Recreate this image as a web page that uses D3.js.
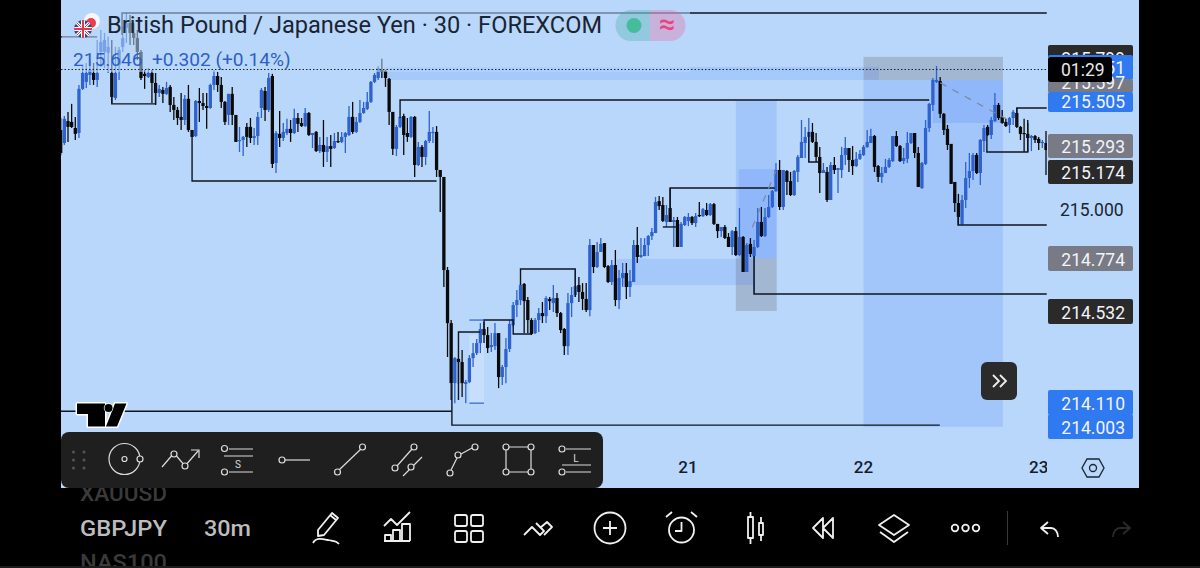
<!DOCTYPE html>
<html><head><meta charset="utf-8">
<script src="https://cdn.jsdelivr.net/npm/d3@7"></script>
<style>html,body{margin:0;padding:0;background:#000;overflow:hidden}svg{display:block}text{font-family:Roboto,sans-serif}</style>
</head><body><svg id="c" width="1200" height="568"></svg>
<script>
// [open, high, low, close], 30-minute bars
const barsA=[[215.368,215.423,215.253,215.262],[215.308,215.432,215.299,215.419],[215.409,215.451,215.313,215.382],[215.405,215.488,215.377,215.382],[215.377,215.428,215.322,215.350],[215.354,215.575,215.331,215.557],[215.557,215.667,215.552,215.630],[215.589,215.676,215.561,215.630],[215.621,215.690,215.575,215.644],[215.630,215.676,215.575,215.598],[215.598,215.782,215.566,215.630],[215.727,215.828,215.658,215.773],[215.727,215.814,215.653,215.782],[215.722,215.796,215.630,215.750],[215.630,215.782,215.492,215.520],[215.515,215.750,215.506,215.630],[215.667,215.750,215.598,215.736],[215.750,215.842,215.727,215.791],[215.837,215.906,215.768,215.860],[215.860,215.897,215.759,215.814],[215.814,215.860,215.759,215.791],[215.791,215.828,215.690,215.727],[215.727,215.736,215.598,215.607],[215.626,215.644,215.557,215.616],[215.612,215.653,215.607,215.630],[215.630,215.644,215.492,215.584],[215.584,215.584,215.483,215.538],[215.538,215.575,215.520,215.557],[215.552,215.566,215.492,215.534],[215.534,215.589,215.529,215.561],[215.566,215.575,215.451,215.483],[215.483,215.520,215.414,215.460],[215.460,215.474,215.391,215.423],[215.428,215.538,215.368,215.414],[215.414,215.529,215.391,215.511],[215.511,215.575,215.359,215.368],[215.368,215.368,215.336,215.336],[215.340,215.506,215.336,215.501],[215.501,215.561,215.405,215.492],[215.492,215.538,215.460,215.478],[215.478,215.538,215.373,215.469],[215.469,215.580,215.465,215.575],[215.575,215.644,215.552,215.616],[215.616,215.635,215.543,215.575],[215.575,215.612,215.469,215.497],[215.497,215.501,215.391,215.405],[215.437,215.534,215.391,215.534],[215.534,215.566,215.391,215.437],[215.437,215.437,215.313,215.313],[215.317,215.382,215.267,215.322],[215.322,215.340,215.248,215.336],[215.382,215.400,215.290,215.336],[215.382,215.423,215.308,215.331],[215.331,215.377,215.299,215.340],[215.340,215.451,215.299,215.428]];
const barsB=[[215.469,215.561,215.423,215.552],[215.547,215.566,215.409,215.460],[215.460,215.630,215.451,215.607],[215.616,215.626,215.193,215.212],[215.216,215.363,215.170,215.354],[215.350,215.455,215.290,215.331],[215.331,215.400,215.317,215.359],[215.354,215.419,215.345,215.373],[215.373,215.414,215.313,215.354],[215.354,215.465,215.350,215.423],[215.423,215.446,215.359,215.396],[215.400,215.423,215.382,215.386],[215.386,215.469,215.382,215.446],[215.446,215.451,215.340,215.345],[215.345,215.354,215.285,215.354],[215.359,215.363,215.267,215.271],[215.271,215.336,215.262,215.299],[215.299,215.414,215.198,215.267],[215.267,215.336,215.221,215.294],[215.294,215.345,215.198,215.281],[215.285,215.354,215.281,215.317],[215.317,215.359,215.308,215.313],[215.313,215.359,215.308,215.336],[215.336,215.359,215.262,215.354],[215.345,215.478,215.340,215.428],[215.428,215.497,215.350,215.359],[215.359,215.428,215.354,215.405],[215.405,215.506,215.400,215.446],[215.446,215.497,215.442,215.469],[215.465,215.543,215.460,215.497],[215.497,215.593,215.492,215.589],[215.589,215.630,215.584,215.621],[215.607,215.662,215.598,215.653],[215.644,215.695,215.607,215.635],[215.639,215.644,215.566,215.607],[215.603,215.607,215.391,215.451],[215.451,215.451,215.253,215.281],[215.281,215.391,215.248,215.382],[215.382,215.428,215.377,215.428],[215.432,215.442,215.253,215.345],[215.354,215.423,215.313,215.336],[215.336,215.432,215.331,215.428],[215.428,215.432,215.152,215.207],[215.207,215.313,215.202,215.290],[215.290,215.299,215.198,215.244],[215.244,215.322,215.207,215.317],[215.317,215.455,215.308,215.359],[215.354,215.382,215.308,215.359],[215.359,215.386,215.152,215.184],[215.184,215.184,214.991,215.152],[215.152,215.152,214.646,214.724]];
const barsC=[[214.724,214.738,214.324,214.480],[214.480,214.494,214.126,214.204],[214.204,214.324,214.112,214.319],[214.315,214.319,214.200,214.301],[214.301,214.356,214.140,214.204],[214.200,214.218,214.112,214.209],[214.209,214.333,214.204,214.319],[214.319,214.388,214.278,214.342],[214.342,214.407,214.333,214.388],[214.388,214.480,214.342,214.453],[214.453,214.485,214.388,214.425],[214.425,214.462,214.342,214.365],[214.370,214.434,214.347,214.379],[214.374,214.480,214.356,214.434],[214.434,214.434,214.181,214.232],[214.232,214.287,214.195,214.278],[214.278,214.411,214.204,214.361],[214.361,214.494,214.347,214.476],[214.471,214.577,214.462,214.563],[214.563,214.632,214.508,214.586],[214.586,214.664,214.563,214.655],[214.660,214.664,214.434,214.581],[214.586,214.600,214.434,214.494],[214.494,214.503,214.425,214.430],[214.434,214.503,214.430,214.494],[214.494,214.549,214.439,214.526],[214.526,214.577,214.480,214.512],[214.512,214.604,214.480,214.595],[214.591,214.600,214.540,214.581],[214.572,214.655,214.531,214.595],[214.595,214.618,214.508,214.526],[214.526,214.531,214.434,214.448],[214.453,214.457,214.333,214.374],[214.374,214.618,214.333,214.572],[214.572,214.646,214.508,214.609],[214.609,214.724,214.600,214.650],[214.655,214.692,214.577,214.623],[214.623,214.664,214.540,214.591],[214.591,214.664,214.531,214.540],[214.540,214.867,214.512,214.839],[214.839,214.839,214.710,214.738],[214.738,214.853,214.733,214.807],[214.807,214.871,214.807,214.844],[214.848,214.848,214.733,214.738],[214.742,214.747,214.664,214.669],[214.669,214.770,214.655,214.747],[214.747,214.816,214.558,214.586],[214.586,214.724,214.545,214.687],[214.687,214.756,214.646,214.710],[214.710,214.756,214.591,214.646],[214.646,214.724,214.600,214.673],[214.669,214.862,214.669,214.839],[214.839,214.922,214.756,214.784],[214.784,214.871,214.779,214.793],[214.788,214.871,214.788,214.839],[214.839,214.885,214.788,214.880],[214.880,214.917,214.862,214.899]];
const barsD=[[214.894,215.060,214.894,215.037],[215.041,215.064,215.000,215.018],[215.023,215.060,214.945,214.950],[214.945,215.023,214.922,214.977],[215.009,215.101,214.945,214.945],[214.945,214.968,214.830,214.954],[214.954,214.968,214.830,214.830],[214.830,214.945,214.830,214.936],[214.931,214.972,214.926,214.968],[214.949,214.986,214.926,214.968],[214.968,214.972,214.931,214.940],[214.940,214.986,214.922,214.972],[214.977,215.037,214.968,214.972],[214.972,215.009,214.968,215.004],[215.000,215.032,214.972,214.977],[214.977,215.032,214.972,215.027],[215.027,215.032,214.931,214.936],[214.936,214.936,214.871,214.903],[214.903,214.922,214.876,214.922],[214.922,214.931,214.867,214.871],[214.876,214.894,214.830,214.830],[214.830,214.908,214.793,214.903],[214.903,214.922,214.788,214.793],[214.793,215.009,214.788,214.876],[214.876,214.880,214.715,214.715],[214.715,214.848,214.715,214.839],[214.844,214.871,214.784,214.798],[214.788,214.862,214.614,214.830],[214.830,215.009,214.825,214.945],[214.945,215.014,214.876,214.880],[214.880,215.009,214.876,214.968],[214.968,215.069,214.963,215.014],[215.014,215.092,215.009,215.087],[215.087,215.216,215.083,215.184],[215.184,215.230,215.000,215.014],[215.014,215.184,215.000,215.184],[215.179,215.184,215.069,215.129],[215.133,215.175,215.064,215.069],[215.069,215.184,215.064,215.179],[215.175,215.253,215.129,215.244],[215.239,215.414,215.239,215.313],[215.308,215.382,215.239,215.336],[215.336,215.423,215.221,215.359],[215.359,215.400,215.308,215.313],[215.313,215.354,215.221,215.244],[215.244,215.290,215.078,215.170],[215.170,215.216,215.170,215.184]];
const barsE=[[215.175,215.198,215.037,215.046],[215.046,215.221,215.046,215.207],[215.207,215.244,215.166,215.184],[215.184,215.193,215.078,215.193],[215.184,215.290,215.147,215.253],[215.253,215.336,215.207,215.285],[215.285,215.285,215.175,215.230],[215.230,215.294,215.161,215.202],[215.202,215.267,215.198,215.235],[215.235,215.276,215.230,215.258],[215.253,215.299,215.248,215.290],[215.290,215.368,215.285,215.313],[215.308,215.373,215.308,215.340],[215.340,215.345,215.175,215.198],[215.202,215.207,215.129,215.152],[215.152,215.198,215.124,215.170],[215.170,215.235,215.170,215.198],[215.198,215.239,215.193,215.230],[215.225,215.340,215.221,215.340],[215.340,215.363,215.290,215.294],[215.294,215.299,215.221,215.225],[215.225,215.285,215.212,215.239],[215.235,215.359,215.216,215.308],[215.308,215.354,215.304,215.354],[215.354,215.354,215.239,215.262],[215.262,215.290,215.106,215.106],[215.101,215.221,215.097,215.216],[215.212,215.414,215.207,215.377],[215.377,215.492,215.359,215.488],[215.483,215.607,215.455,215.598],[215.589,215.662,215.584,215.598],[215.593,215.612,215.423,215.442],[215.442,215.446,215.345,215.368],[215.373,215.391,215.276,215.299],[215.304,215.304,215.120,215.120],[215.129,215.129,214.991,215.032],[215.032,215.074,214.931,214.968],[214.936,215.069,214.931,215.046],[215.046,215.221,215.009,215.147],[215.147,215.262,215.101,215.179],[215.179,215.262,215.138,215.253],[215.253,215.262,215.166,215.170],[215.170,215.327,215.115,215.322],[215.317,215.391,215.267,215.377],[215.382,215.391,215.340,215.345],[215.345,215.428,215.327,215.414],[215.409,215.538,215.405,215.483],[215.483,215.492,215.414,215.423],[215.428,215.460,215.396,215.400],[215.405,215.419,215.382,215.386],[215.391,215.428,215.354,215.423],[215.423,215.460,215.391,215.451],[215.446,215.469,215.377,215.382],[215.382,215.386,215.322,215.350],[215.354,215.419,215.267,215.350],[215.350,215.400,215.267,215.331],[215.331,215.345,215.271,215.340],[215.340,215.345,215.308,215.322],[215.327,215.336,215.276,215.308],[215.308,215.322,215.285,215.313],[215.308,215.363,215.161,215.276]];
const dayLabels=["21","22","23"];
const dayBars=[171.9,220,268];
// drawn levels: polylines of [bar, price]
const levels=[[[16.8,215.805],[16.8,215.906],[270.2,215.906]],[[0,215.796],[10,215.796]],[[14,215.630],[14,215.488],[26,215.488],[26,215.630]],[[36,215.368],[36,215.133],[103,215.133]],[[93,215.423],[93,215.506],[238,215.506]],[[107.2,214.204],[107.2,214.011],[240.9,214.011]],[[0,214.075],[107.2,214.075]],[[109,214.126],[109,214.439],[115,214.439]],[[116,214.439],[116,214.494],[124,214.494],[124,214.430],[129,214.430]],[[126,214.655],[126,214.729],[141,214.729],[141,214.600]],[[167,214.985],[167,215.101],[195.7,215.101]],[[165,214.922],[169,214.922]],[[190,214.788],[190,214.614],[270.2,214.614]],[[205,215.359],[205,215.221],[208,215.221]],[[245.9,214.985],[245.9,214.931],[270.2,214.931]],[[253.8,215.377],[253.8,215.267],[265,215.267],[265,215.414]],[[262,215.382],[262,215.469],[270.2,215.469]]];
// zones: [bar0, bar1, priceTop, priceBottom, kind]
const zones=[[220,258.2,215.598,214.003,"b"],[239,258.2,215.598,215.400,"b"],[220,258.2,215.704,215.598,"g"],[88.8,224.2,215.658,215.598,"e"],[185,196.2,215.506,214.779,"b"],[185.8,196.2,215.188,214.779,"b"],[185,196.2,214.779,214.536,"g"],[152.4,189.7,214.775,214.655,"e"],[112,116,214.425,214.112,"f"]];
const dashed=[[[241,215.585],[254,215.465],[259,215.42]],[[189.5,214.92],[196,215.18]]];
const lastPrice=215.646;
const priceTags=[{t:"215.799",y:58,h:[45,70],f:"#2a2a2a"},{t:"215.651",y:67,h:[55,80],f:"#2f7af0"},{t:"215.597",y:82,h:[79,93],f:"#787b86"},{t:"215.505",y:101,h:[92,112],f:"#2f7af0"},{t:"215.293",y:146,h:[134,158],f:"#787b86"},{t:"215.174",y:172,h:[160,184],f:"#2a2a2a"},{t:"214.774",y:259,h:[246,271],f:"#787b86"},{t:"214.532",y:312,h:[299,324],f:"#2a2a2a"},{t:"214.110",y:403,h:[390,415],f:"#2f7af0"},{t:"214.003",y:427,h:[414,439],f:"#2f7af0"}];

const bars=[...barsA,...barsB,...barsC,...barsD,...barsE];
const x=d3.scaleLinear().domain([0,270]).range([60.7,1046]);
const y=d3.scaleLinear().domain([215,214]).range([210,427.5]);
const svg=d3.select("#c");
const BG="#b8d7fa",UP="#2d62cf",DN="#0a0a0a";
svg.append("rect").attr("width",1200).attr("height",568).attr("fill","#000");
svg.append("rect").attr("x",61).attr("width",1078).attr("height",488).attr("fill",BG);
svg.append("rect").attr("y",566).attr("width",1200).attr("height",2).attr("fill","#1c1c1c");
svg.append("defs").append("clipPath").attr("id","pane").append("rect").attr("x",61).attr("y",0).attr("width",986).attr("height",488);
const pane=svg.append("g").attr("clip-path","url(#pane)");
// zones
const zfill={b:"rgba(41,98,255,.15)",g:"rgba(120,123,134,.35)",e:"rgba(41,98,255,.13)",f:"rgba(225,238,255,.35)"};
pane.selectAll("rect.z").data(zones).join("rect").attr("class","z")
 .attr("x",d=>x(d[0])).attr("width",d=>x(d[1])-x(d[0])).attr("y",d=>y(d[2])).attr("height",d=>y(d[3])-y(d[2]))
 .attr("fill",d=>zfill[d[4]]);
// candles
const cg=pane.append("g");
cg.selectAll("line").data(bars).join("line")
 .attr("x1",(d,i)=>x(i)).attr("x2",(d,i)=>x(i)).attr("y1",d=>y(d[1])).attr("y2",d=>y(d[2]))
 .attr("stroke",d=>d[3]>=d[0]?UP:DN).attr("stroke-width",1.3);
cg.selectAll("rect").data(bars).join("rect")
 .attr("x",(d,i)=>x(i)-1.65).attr("width",3.3)
 .attr("y",d=>y(Math.max(d[0],d[3]))).attr("height",d=>Math.max(1.2,Math.abs(y(d[0])-y(d[3]))))
 .attr("fill",d=>d[3]>=d[0]?UP:DN);
// levels
const ln=d3.line().x(d=>x(d[0])).y(d=>y(d[1]));
pane.selectAll("path.l").data(levels).join("path").attr("class","l").attr("d",ln).attr("fill","none").attr("stroke","#0f1620").attr("stroke-width",1.4);
pane.selectAll("path.d").data(dashed).join("path").attr("class","d").attr("d",ln).attr("fill","none").attr("stroke","#7c8aa0").attr("stroke-width",1.2).attr("stroke-dasharray","7 7");
// small blue marks of the faint zone
pane.append("path").attr("d",ln([[112,214.112],[116,214.112]])).attr("stroke",UP).attr("stroke-width",1.2);
pane.append("path").attr("d",ln([[112,214.494],[116,214.494]])).attr("stroke",UP).attr("stroke-width",1.2);
// legend veil
pane.append("rect").attr("x",62).attr("y",8).attr("width",628).attr("height",64).attr("fill",BG).attr("opacity",.55);
pane.append("line").attr("x1",61).attr("x2",1047).attr("y1",y(lastPrice)).attr("y2",y(lastPrice)).attr("stroke","#1b2430").attr("stroke-dasharray","1.5 2").attr("stroke-width",1);
// legend
svg.append("text").attr("x",107).attr("y",33).attr("font-size",23.6).attr("fill","#1a2433").text("British Pound / Japanese Yen · 30 · FOREXCOM");
const quote=svg.append("text").attr("x",73).attr("y",65.5).attr("font-size",19.1).attr("fill","#2f5fc4");
quote.text("215.646  +0.302 (+0.14%)").attr("xml:space","preserve");
// flag
const fl=svg.append("g");
fl.append("circle").attr("cx",92).attr("cy",21).attr("r",8).attr("fill","#f4f7fb");
fl.append("circle").attr("cx",91).attr("cy",23).attr("r",5).attr("fill","#ef3b4e");
fl.append("clipPath").attr("id","fc").append("circle").attr("cx",83).attr("cy",29).attr("r",9);
const fg=fl.append("g").attr("clip-path","url(#fc)");
fg.append("rect").attr("x",74).attr("y",20).attr("width",18).attr("height",18).attr("fill","#2b4a8b");
fg.append("path").attr("d","M74 20L92 38M92 20L74 38").attr("stroke","#fff").attr("stroke-width",3);
fg.append("path").attr("d","M74 20L92 38M92 20L74 38").attr("stroke","#e2364a").attr("stroke-width",1);
fg.append("path").attr("d","M83 20V38M74 29H92").attr("stroke","#fff").attr("stroke-width",4);
fg.append("path").attr("d","M83 20V38M74 29H92").attr("stroke","#e2364a").attr("stroke-width",2);
// pills
const pl=svg.append("g");
pl.append("path").attr("d","M650 10H631a15.500 15.500 0 0 0 0 31H650Z").attr("fill","rgba(60,170,160,.3)");
pl.append("path").attr("d","M650 10H670a15.500 15.500 0 0 1 0 31H650Z").attr("fill","rgba(240,90,150,.3)");
pl.append("circle").attr("cx",634).attr("cy",25.500).attr("r",7.500).attr("fill","#45bd9b");
pl.append("text").attr("x",667).attr("y",34).attr("text-anchor","middle").attr("font-size",29).attr("font-weight",500).attr("fill","#f0417f").text("≈");
// right-hand price scale tags
svg.append("text").attr("x",1060).attr("y",216).attr("font-size",17.5).attr("fill","#1a2433").text("215.000");
svg.append("text").attr("x",1060).attr("y",324).attr("font-size",17.5).attr("fill","#1a2433").text("214.500");
const tg=svg.append("g");
priceTags.forEach(d=>{
 tg.append("rect").attr("x",1048).attr("y",d.h[0]).attr("width",85).attr("height",d.h[1]-d.h[0]).attr("rx",2).attr("fill",d.f);
 tg.append("text").attr("x",1125).attr("y",d.y+6.5).attr("text-anchor","end").attr("font-size",17.5).attr("fill","#f2f4f8").text(d.t);
});
tg.append("rect").attr("x",1048).attr("y",57).attr("width",64).attr("height",25).attr("rx",3).attr("fill","#000");
tg.append("text").attr("x",1061).attr("y",75.500).attr("font-size",17.5).attr("fill","#e8e8e8").text("01:29");
// day ticks (chart-pane clip cuts the last one)
pane.selectAll("text.t").data(dayLabels).join("text").attr("class","t").attr("x",(d,i)=>x(dayBars[i])).attr("y",473).attr("text-anchor","middle").attr("font-size",17).attr("font-weight",500).attr("fill","#131c2e").text(d=>d);
// hex
svg.append("path").attr("d","M1087 459L1099 459L1104 468L1099 477L1087 477L1082 468Z").attr("fill","none").attr("stroke","#1a2433").attr("stroke-width",1.3);
svg.append("circle").attr("cx",1093).attr("cy",468).attr("r",3.500).attr("fill","none").attr("stroke","#1a2433").attr("stroke-width",1.3);
// replay button
svg.append("rect").attr("x",981).attr("y",362).attr("width",36).attr("height",38).attr("rx",6).attr("fill","#2b2b2b");
svg.append("path").attr("d","M993 375L999 381L993 387M1000 375L1006 381L1000 387").attr("fill","none").attr("stroke","#eee").attr("stroke-width",1.8);
// TV logo
const logo="M77 403.500H105V426.500H88V414H77Z M115 403.500H126.500L117 426.500H106Z";
svg.append("path").attr("d",logo).attr("fill","#000").attr("stroke","#fff").attr("stroke-width",3).attr("paint-order","stroke").attr("stroke-linejoin","round");
svg.append("circle").attr("cx",108.500).attr("cy",408).attr("r",4).attr("fill","#000").attr("stroke","#fff").attr("stroke-width",1.5).attr("paint-order","stroke");
// tool bar
svg.append("rect").attr("x",61).attr("y",432).attr("width",542).attr("height",56).attr("rx",8).attr("fill","#1f1f1f");
const tb=svg.append("g").attr("fill","none").attr("stroke","#dcdcdc").attr("stroke-width",1.2);
[73.5,84].forEach(a=>[452,460,468].forEach(b=>svg.append("circle").attr("cx",a).attr("cy",b).attr("r",1.5).attr("fill","#555")));
const dot=(a,b,r=3)=>tb.append("circle").attr("cx",a).attr("cy",b).attr("r",r).attr("fill","#1f1f1f");
const pth=s=>tb.append("path").attr("d",s);
tb.append("circle").attr("cx",124.500).attr("cy",459).attr("r",15.500);dot(124.500,459,2.500);dot(140,459,3);
pth("M162 467L174 453L185 466L198 451M191 450H199V458");dot(174,454);dot(185,466);
pth("M229 449H253M224 456H253M229 472H253");dot(224.500,448.500);dot(224.500,472);
pth("M285 460H310");dot(282,460);
pth("M339 470L361 449");dot(337.500,472);dot(362.500,447);
pth("M397 466L412 449M403 476L422 457");dot(395,468);dot(414,447);dot(411,467);
pth("M451 470L457 458M461 454L472 448");dot(450,473);dot(458,455);dot(475,447);
pth("M509 447H528M506 450V469M531 450V469M509 472H528");dot(506,447);dot(531,447);dot(506,472);dot(531,472);
pth("M566 449H591M562 465H591M566 472H591");dot(562,449);dot(562,472);
svg.append("text").attr("x",238).attr("y",468).attr("text-anchor","middle").attr("font-size",10).attr("fill","#dcdcdc").text("S");
svg.append("text").attr("x",576).attr("y",462).attr("text-anchor","middle").attr("font-size",10).attr("fill","#dcdcdc").text("L");
// symbol picker
const sy=svg.append("g");
sy.append("clipPath").attr("id","sc").append("rect").attr("x",0).attr("y",488).attr("width",300).attr("height",78);
const syc=sy.append("g").attr("clip-path","url(#sc)");
syc.append("text").attr("x",80).attr("y",501).attr("font-size",22).attr("font-weight",500).attr("fill","#3a3a3a").attr("textLength",87).attr("lengthAdjust","spacingAndGlyphs").text("XAUUSD");
syc.append("text").attr("x",80).attr("y",536).attr("font-size",22).attr("font-weight",500).attr("fill","#bdbdbd").attr("textLength",87).attr("lengthAdjust","spacingAndGlyphs").text("GBPJPY");
syc.append("text").attr("x",204).attr("y",536).attr("font-size",22).attr("font-weight",500).attr("fill","#bdbdbd").attr("textLength",47).attr("lengthAdjust","spacingAndGlyphs").text("30m");
syc.append("text").attr("x",80).attr("y",570).attr("font-size",22).attr("font-weight",500).attr("fill","#3a3a3a").attr("textLength",87).attr("lengthAdjust","spacingAndGlyphs").text("NAS100");
// bottom icons
const bi=svg.append("g").attr("fill","none").attr("stroke","#f0f0f0").attr("stroke-width",1.8).attr("stroke-linejoin","round");
const bp=s=>bi.append("path").attr("d",s);
bp("M318 530L332 513L338 518L324 535L318 536ZM330 515L336 520M313 543C316 537 323 539 328 540C332 541 336 540 339 544");
bp("M384 526L391 519L397 525L410 512M385 541V535H391V541M393 541V530H400V541M402 541V524H410V541M384 541H410");
bi.selectAll("rect.g").data([[455,515],[471,515],[455,531],[471,531]]).join("rect").attr("class","g").attr("x",d=>d[0]).attr("y",d=>d[1]).attr("width",12).attr("height",11).attr("rx",2);
bp("M524 535L532 527L540 535L544 531L536 523M540 528L547 522L552 527L544 535");
bi.append("circle").attr("cx",610).attr("cy",528).attr("r",15.500);
bp("M603 528H617M610 521V535");
bi.append("circle").attr("cx",681.500).attr("cy",530).attr("r",12.500);
bp("M681.500 522V531H675M666 517L672 512M697 517L691 512");
bp("M748 517H753V538H748ZM750.500 512V517M750.500 538V544M759 523H763V535H759ZM761 517V523M761 535V541");
bp("M823 518L813 528L823 538ZM833 518L823 528L833 538Z");
bp("M894 515L909 525L894 535L879 525ZM880 532L894 542L908 532");
[955,965.500,976].forEach(a=>bi.append("circle").attr("cx",a).attr("cy",528).attr("r",3.300));
svg.append("line").attr("x1",1007.500).attr("x2",1007.500).attr("y1",511).attr("y2",545).attr("stroke","#3a3a3a");
bp("M1048 522L1041 528L1048 534M1041 528H1051C1055 528 1058 532 1058 537");
svg.append("path").attr("d","M1123 522L1130 528L1123 534M1130 528H1120C1116 528 1113 532 1113 537").attr("fill","none").attr("stroke","#2a2a2a").attr("stroke-width",1.8);
</script></body></html>
